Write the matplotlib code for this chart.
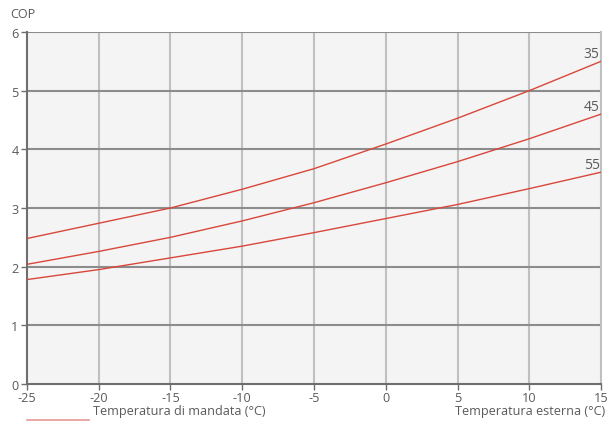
import matplotlib
matplotlib.use("Agg")
import matplotlib.pyplot as plt
from matplotlib.lines import Line2D

plt.rcParams['font.family'] = ['Open Sans', 'DejaVu Sans']
plt.rcParams['axes.unicode_minus'] = False

temps = [-25, -20, -15, -10, -5, 0, 5, 10, 15]
cop_35 = [2.48, 2.74, 3.00, 3.32, 3.67, 4.09, 4.53, 5.00, 5.50]
cop_45 = [2.04, 2.26, 2.50, 2.78, 3.09, 3.43, 3.79, 4.18, 4.60]
cop_55 = [1.78, 1.95, 2.15, 2.35, 2.58, 2.82, 3.06, 3.33, 3.61]
series_labels = ["35", "45", "55"]
x_ticks = [-25, -20, -15, -10, -5, 0, 5, 10, 15]
y_ticks = [0, 1, 2, 3, 4, 5, 6]

text_c = "#5a5a5a"
red = "#d9473b"
fs = 9.1

fig = plt.figure(figsize=(6.1, 4.27), dpi=100)
ax = fig.add_axes([27/610, 1-385/427, (601-27)/610, (385-33)/427])
ax.set_facecolor("#f3f4f3")
ax.set_xlim(-25, 15)
ax.set_ylim(0, 6)
ax.set_xticks(x_ticks)
ax.set_yticks(y_ticks)

for t in x_ticks[1:-1]:
    ax.axvline(t, color="#c0c0c0", lw=1.5, zorder=1)
for v in y_ticks[1:]:
    ax.axhline(v, color="#8c8c8c", lw=1.5, zorder=1)

for s in ["left", "bottom"]:
    ax.spines[s].set_color("#6e6e6e")
    ax.spines[s].set_linewidth(1.5)
ax.spines["top"].set_visible(False)
ax.spines["right"].set_color("#c0c0c0")
ax.spines["right"].set_linewidth(1.5)

ax.tick_params(axis="both", colors="#6e6e6e", labelcolor=text_c, labelsize=fs,
               length=4, width=1)
ax.tick_params(axis="x", pad=1)
ax.tick_params(axis="y", pad=2)

for ys, lab in zip([cop_35, cop_45, cop_55], series_labels):
    ax.plot(temps, ys, color=red, lw=1.0, zorder=3)
    ax.annotate(lab, xy=(15, ys[-1]), xytext=(-1, 0), textcoords="offset points",
                ha="right", va="bottom", color=text_c, fontsize=10)

fig.text(10/610, 1-15/427, "COP", color=text_c, fontsize=fs, va="center", ha="left")
fig.text(605/610, 1-412/427, "Temperatura esterna (°C)", color=text_c, fontsize=fs,
         va="center", ha="right")
fig.add_artist(Line2D([27/610, 89/610], [1-421/427, 1-421/427], color="#e59a92", lw=1.2,
                      transform=fig.transFigure))
fig.text(93/610, 1-412/427, "Temperatura di mandata (°C)", color=text_c, fontsize=fs,
         va="center", ha="left")

fig.savefig("out.png", dpi=100)
